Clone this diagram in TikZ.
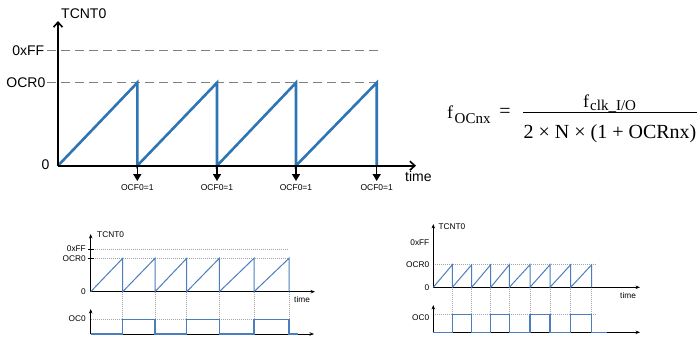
\documentclass[tikz,border=0pt]{standalone}
\usepackage{fontspec}
\setmainfont{Liberation Sans}
\newfontfamily\seriffont{Liberation Serif}
\usetikzlibrary{arrows.meta}
\definecolor{sawblue}{RGB}{46,117,182}
\definecolor{lowblue}{RGB}{74,126,190}
\definecolor{dashgray}{RGB}{128,128,128}
\definecolor{dotgray}{RGB}{165,165,165}
\begin{document}
\begin{tikzpicture}[x=1pt,y=-1pt,
  bigaxis/.style={line width=1.6pt, -{Straight Barb[length=5pt,width=9pt,line width=1.6pt]}},
  bigsaw/.style={sawblue, line width=2.6pt, line join=miter},
  gdash/.style={dashgray, line width=0.8pt, dash pattern=on 9pt off 5pt},
  ocfarrow/.style={line width=1.5pt, -{Triangle[length=7pt,width=8pt]}},
  lbl/.style={inner sep=0pt, font=\fontsize{14}{14}\selectfont},
  ocf/.style={inner sep=0pt, font=\fontsize{8.5}{8.5}\selectfont},
  sml/.style={inner sep=0pt, font=\fontsize{8.3}{8.3}\selectfont},
  smlaxis/.style={line width=0.9pt, -{Stealth[length=4.5pt,width=3.5pt]}},
  smlsaw/.style={lowblue, line width=1pt},
  sqwave/.style={lowblue, line width=1.5pt},
  gdot/.style={dotgray, line width=0.6pt, dash pattern=on 1pt off 1pt},
  fbig/.style={inner sep=0pt, font=\seriffont\fontsize{18}{18}\selectfont},
  fsub/.style={inner sep=0pt, font=\seriffont\fontsize{15}{15}\selectfont},
  fden/.style={inner sep=0pt, font=\seriffont\fontsize{20}{20}\selectfont}]
\useasboundingbox (0,0) rectangle (700,341);
\fill[white] (0,0) rectangle (700,341);

% ---------- top chart ----------
\coordinate (O1) at (58,165.7);
\coordinate (Y1) at (58,21);
\coordinate (X1) at (416,165.7);
\node[lbl, anchor=west] (tcnt1) at (61,14) {TCNT0};
\node[lbl, anchor=east] (ff1) at (44.5,50.7) {0xFF};
\node[lbl, anchor=east] (ocr1) at (45.5,82.7) {OCR0};
\node[lbl, anchor=east] (zero1) at (49.5,165) {0};
\node[lbl, anchor=west] (time1) at (405,176) {time};
\coordinate (dffs) at (47,50.7);  \coordinate (dffe) at (383,50.7);
\coordinate (docs) at (47,82.7);  \coordinate (doce) at (383,82.7);
\draw[gdash] (dffs) -- (dffe);
\draw[gdash] (docs) -- (doce);
\draw[bigsaw] (O1) -- (137.3,82.7) -- (137.3,165.7) -- (217,82.7) -- (217,165.7)
  -- (296,82.7) -- (296,165.7) -- (376.7,82.7) -- (376.7,165.7);
\draw[bigaxis] (O1) -- (Y1);
\draw[bigaxis] (O1) -- (X1);
\foreach \px [count=\i] in {137.3,217,296,376.7}{
  \coordinate (as\i) at (\px,165.7);
  \coordinate (ae\i) at (\px,181);
  \draw[ocfarrow] (as\i) -- (ae\i);
  \node[ocf] (ocf\i) at (\px,188) {OCF0=1};
}

% ---------- formula ----------
\node[fbig, anchor=base west] (lf) at (447,118) {f};
\node[fsub, anchor=base west] (lfsub) at (454.5,123.3) {OCnx};
\node[inner sep=0pt, font=\seriffont\fontsize{20}{20}\selectfont] (eq) at (505,113) {=};
\coordinate (bars) at (523.3,112.5);
\coordinate (bare) at (696.7,112.5);
\draw[line width=0.9pt] (bars) -- (bare);
\node[fbig, anchor=base west] (nf) at (583,107) {f};
\node[fsub, anchor=base west] (nfsub) at (590,110) {clk\_I/O};
\node[fden, anchor=base] (den) at (610,138.5) {2 × N × (1 + OCRnx)};

% ---------- lower left chart ----------
\coordinate (O2) at (90.7,291.7);
\coordinate (Y2) at (90.7,234);
\coordinate (X2) at (315,291.7);
\node[sml, anchor=west] (tcnt2) at (97,235) {TCNT0};
\node[sml, anchor=east] (ff2) at (86,249) {0xFF};
\node[sml, anchor=east] (ocr2) at (86,258.3) {OCR0};
\node[sml, anchor=east] (zero2) at (86,291.7) {0};
\node[sml, anchor=west] (time2) at (294,299.5) {time};
\draw[gdot] (93,249) -- (289,249);
\draw[gdot] (93,258.3) -- (289,258.3);
\draw[line width=0.8pt] (87.7,249) -- (93.7,249);
\draw[line width=0.8pt] (87.7,258.3) -- (93.7,258.3);
\foreach \px in {122.7,155,186.7,219.3,254,289}{
  \draw[gdot] (\px,291.7) -- (\px,334);
}
\coordinate (O3) at (90.7,334);
\coordinate (Y3) at (90.7,309);
\coordinate (X3) at (314,334);
\node[sml, anchor=east] (oc2) at (86,319) {OC0};
\draw[gdot] (91,319.3) -- (289,319.3);
\draw[smlaxis] (O2) -- (Y2);
\draw[smlaxis] (O2) -- (X2);
\draw[smlaxis] (O3) -- (Y3);
\draw[smlaxis] (O3) -- (X3);
\draw[smlsaw] (O2) -- (122.7,258.3) -- (122.7,291.7) -- (155,258.3) -- (155,291.7)
  -- (186.7,258.3) -- (186.7,291.7) -- (219.3,258.3) -- (219.3,291.7)
  -- (254,258.3) -- (254,291.7) -- (289,258.3) -- (289,291.7);
\draw[sqwave] (O3) -- (122.7,334) -- (122.7,319.3) -- (155,319.3) -- (155,334)
  -- (186.7,334) -- (186.7,319.3) -- (219.3,319.3) -- (219.3,334)
  -- (254,334) -- (254,319.3) -- (289,319.3) -- (289,334) -- (297.7,334);

% ---------- lower right chart ----------
\coordinate (O4) at (433.3,287.3);
\coordinate (Y4) at (433.3,224);
\coordinate (X4) at (640,287.3);
\node[sml, anchor=west] (tcnt4) at (438.3,227) {TCNT0};
\node[sml, anchor=east] (ff4) at (429.5,242.3) {0xFF};
\node[sml, anchor=east] (ocr4) at (429.5,264.7) {OCR0};
\node[sml, anchor=east] (zero4) at (429.5,287.3) {0};
\node[sml, anchor=west] (time4) at (620,295.5) {time};
\draw[gdot] (433.3,264.7) -- (597,264.7);
\foreach \px in {452.3,471.7,490.7,509.3,530,550,570.7,591.7}{
  \draw[gdot] (\px,287.3) -- (\px,332.3);
}
\coordinate (O5) at (433.3,332.3);
\coordinate (Y5) at (433.3,305);
\coordinate (X5) at (640,332.3);
\node[sml, anchor=east] (oc4) at (429.5,318) {OC0};
\draw[gdot] (433.3,314.7) -- (597,314.7);
\draw[smlaxis] (O4) -- (Y4);
\draw[smlaxis] (O4) -- (X4);
\draw[smlaxis] (O5) -- (Y5);
\draw[smlaxis] (O5) -- (X5);
\draw[smlsaw] (O4) -- (452.3,264.7) -- (452.3,287.3) -- (471.7,264.7) -- (471.7,287.3)
  -- (490.7,264.7) -- (490.7,287.3) -- (509.3,264.7) -- (509.3,287.3)
  -- (530,264.7) -- (530,287.3) -- (550,264.7) -- (550,287.3)
  -- (570.7,264.7) -- (570.7,287.3) -- (591.7,264.7) -- (591.7,287.3);
\draw[sqwave] (O5) -- (452.3,332.3) -- (452.3,314.7) -- (471.7,314.7) -- (471.7,332.3)
  -- (490.7,332.3) -- (490.7,314.7) -- (509.3,314.7) -- (509.3,332.3)
  -- (530,332.3) -- (530,314.7) -- (550,314.7) -- (550,332.3)
  -- (570.7,332.3) -- (570.7,314.7) -- (591.7,314.7) -- (591.7,332.3) -- (607,332.3);
\end{tikzpicture}
\end{document}
